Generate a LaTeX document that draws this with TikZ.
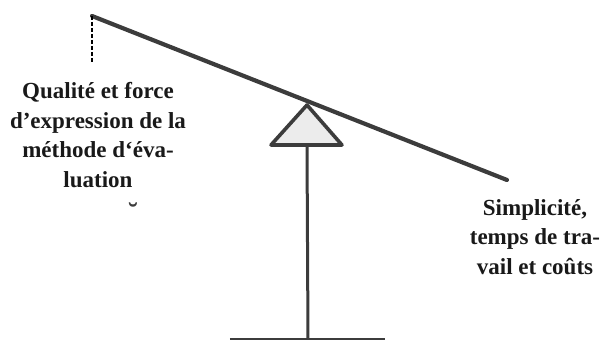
\documentclass[tikz,border=0pt]{standalone}
\usepackage{fontspec}
\setmainfont{Liberation Serif}
\definecolor{beamgray}{RGB}{60,60,60}
\definecolor{fillgray}{RGB}{236,236,236}
\tikzset{
	sidelabel/.style={text=black!90, font=\bfseries\fontsize{11.5}{14.75}\selectfont, align=center, inner sep=0pt}
}
\begin{document}
\begin{tikzpicture}[x=0.5pt, y=-0.5pt]
		
		\useasboundingbox (0,0) rectangle (602,340);
		
		%Beam
		\coordinate (BeamLeft) at (92,16);
		\coordinate (BeamRight) at (507,180);
		\draw[beamgray, line width=2.1pt, line cap=round] (BeamLeft) -- (BeamRight);
		\coordinate (DashEnd) at (92,63);
		\draw[black, line width=1pt, dash pattern=on 2pt off 1pt] (BeamLeft) -- (DashEnd);
		
		%Fulcrum
		\draw[beamgray, fill=fillgray, line width=1.8pt, line join=round] (307,105) coordinate (Apex) -- (342,145) coordinate (BaseRight) -- (271,145) coordinate (BaseLeft) -- cycle;
		\coordinate (PoleFoot) at (308,339);
		\draw[beamgray, line width=1.5pt] (307,145) -- (PoleFoot);
		\draw[beamgray, line width=0.8pt] (230,339) coordinate (GroundLeft) -- (385,339) coordinate (GroundRight);
		
		%Labels
		\node (Quality) at (98,135) [sidelabel]{Qualité et force\\d’expression de la\\méthode d‘éva-\\luation};
		\node (Breve) at (133,213) [text=beamgray, font=\bfseries\fontsize{14}{16}\selectfont]{˘};
		\node (Simplicity) at (535,237) [sidelabel]{Simplicité,\\temps de tra-\\vail et coûts};
		
\end{tikzpicture}
\end{document}
